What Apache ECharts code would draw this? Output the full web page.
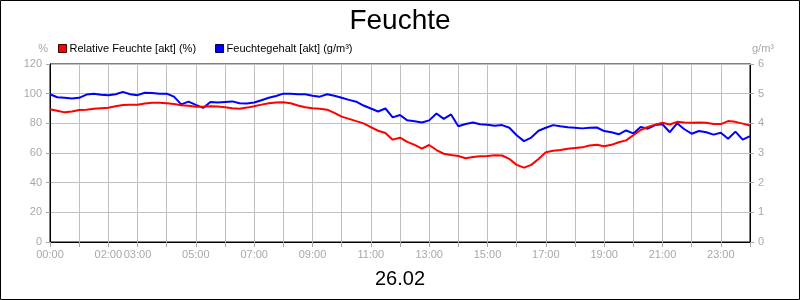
<!DOCTYPE html>
<html>
<head>
<meta charset="utf-8">
<script src="https://cdn.jsdelivr.net/npm/echarts@6/dist/echarts.min.js"></script>
<style>
html,body{margin:0;padding:0;background:#fff;}
#c{width:800px;height:300px;}
</style>
</head>
<body>
<div id="c"></div>
<script>
const titleText = 'Feuchte';
const dateText = '26.02';
const seriesNames = ['Relative Feuchte [akt] (%)', 'Feuchtegehalt [akt] (g/m³)'];
const xTickHours = [0, 2, 3, 5, 7, 9, 11, 13, 15, 17, 19, 21, 23];
const xTickLabels = ['00:00','02:00','03:00','05:00','07:00','09:00','11:00','13:00','15:00','17:00','19:00','21:00','23:00'];
const stepHours = 0.25;

// Relative Feuchte (%), one reading per 15 minutes, 00:00 .. 24:00
const rh = [
  89.5, 88.5, 87.4, 88.0, 89.0, 89.2, 89.8, 90.2, 90.5, 91.5, 92.4, 92.5,
  92.6, 93.3, 93.9, 93.8, 93.5, 93.0, 92.2, 91.8, 91.2, 91.2, 91.5, 91.3,
  90.8, 90.2, 89.8, 90.6, 91.5, 92.6, 93.6, 94.0, 94.2, 93.5, 92.0, 90.8,
  90.2, 89.8, 89.2, 87.0, 84.5, 83.0, 81.5, 80.0, 77.5, 75.0, 73.5, 69.0,
  70.3, 67.5, 65.5, 63.0, 65.4, 62.0, 59.5, 58.6, 58.0, 56.5, 57.3, 57.8,
  58.0, 58.5, 58.3, 56.0, 52.0, 50.1, 52.0, 56.0, 60.5, 61.5, 62.0, 62.8,
  63.3, 63.8, 65.0, 65.5, 64.5, 65.5, 67.2, 68.5, 72.0, 75.5, 77.5, 79.0,
  80.4, 79.2, 81.0, 80.5, 80.4, 80.6, 80.4, 79.5, 79.5, 81.5, 81.0, 79.8,
  78.5
];
// Feuchtegehalt (g/m³), one reading per 15 minutes, 00:00 .. 24:00
const ah = [
  4.98, 4.88, 4.86, 4.84, 4.86, 4.97, 5.00, 4.96, 4.95, 4.98, 5.06, 4.98,
  4.95, 5.03, 5.02, 5.00, 5.00, 4.90, 4.64, 4.73, 4.62, 4.52, 4.72, 4.70,
  4.72, 4.74, 4.68, 4.67, 4.70, 4.78, 4.86, 4.92, 5.00, 5.00, 4.98, 4.98,
  4.93, 4.90, 4.98, 4.93, 4.86, 4.79, 4.73, 4.60, 4.50, 4.40, 4.50, 4.20,
  4.28, 4.10, 4.07, 4.03, 4.10, 4.33, 4.15, 4.30, 3.90, 3.98, 4.03, 3.97,
  3.95, 3.92, 3.94, 3.85, 3.60, 3.40, 3.52, 3.75, 3.85, 3.94, 3.90, 3.87,
  3.85, 3.83, 3.85, 3.86, 3.74, 3.70, 3.63, 3.76, 3.66, 3.88, 3.82, 3.94,
  3.97, 3.70, 4.00, 3.80, 3.65, 3.74, 3.70, 3.62, 3.68, 3.48, 3.72, 3.45,
  3.57
];

const times = rh.map((_, i) => i * stepHours);
const rhData = times.map((t, i) => [t, rh[i]]);
const ahData = times.map((t, i) => [t, ah[i]]);

const FONT = 'Liberation Sans, Arial, sans-serif';
const GRAY = '#a8a8a8';
const GRID = '#c0c0c0';

const chart = echarts.init(document.getElementById('c'), null, {renderer: 'canvas'});
chart.setOption({
  animation: false,
  backgroundColor: '#fff',
  textStyle: {fontFamily: FONT},
  title: [
    {text: titleText, left: 'center', top: 2, textStyle: {fontSize: 28, fontWeight: 'normal', color: '#000', fontFamily: FONT}},
    {text: dateText, left: 'center', top: 264, textStyle: {fontSize: 20, fontWeight: 'normal', color: '#000', fontFamily: FONT}}
  ],
  legend: {
    left: 53, top: 38, itemWidth: 8, itemHeight: 8, itemGap: 19, icon: 'rect',
    textStyle: {fontSize: 11, color: '#000', fontFamily: FONT, padding: [0, 0, 0, -2]},
    data: [
      {name: seriesNames[0], itemStyle: {color: '#ff0000', borderColor: '#400000', borderWidth: 1}},
      {name: seriesNames[1], itemStyle: {color: '#0000ff', borderColor: '#000040', borderWidth: 1}}
    ]
  },
  grid: {left: 50, right: 50, top: 64, bottom: 58, show: true, borderColor: '#000', borderWidth: 1, backgroundColor: 'transparent'},
  xAxis: {
    type: 'value', min: 0, max: 24, interval: 1,
    axisLine: {show: true, lineStyle: {color: '#000', width: 1}},
    axisTick: {show: true, length: 5, lineStyle: {color: GRAY}},
    axisLabel: {
      color: GRAY, fontSize: 11, fontFamily: FONT, margin: 7, showMaxLabel: true,
      formatter: v => { const k = xTickHours.indexOf(v); return k >= 0 ? xTickLabels[k] : ''; }
    },
    splitLine: {show: true, lineStyle: {color: GRID, width: 1}}
  },
  yAxis: [
    {
      type: 'value', min: 0, max: 120, interval: 20, position: 'left',
      name: '%', nameLocation: 'end', nameGap: 10,
      nameTextStyle: {color: GRAY, fontSize: 11, fontFamily: FONT, align: 'right', padding: [0, 2, 0, 0]},
      axisLine: {show: true, lineStyle: {color: '#000', width: 1}},
      axisTick: {show: true, length: 4, lineStyle: {color: GRAY}},
      axisLabel: {color: GRAY, fontSize: 11, fontFamily: FONT, margin: 8},
      splitLine: {show: true, lineStyle: {color: GRID, width: 1}}
    },
    {
      type: 'value', min: 0, max: 6, interval: 1, position: 'right',
      name: 'g/m³', nameLocation: 'end', nameGap: 10,
      nameTextStyle: {color: GRAY, fontSize: 11, fontFamily: FONT, align: 'left', padding: [0, 0, 0, 2]},
      axisLine: {show: true, lineStyle: {color: '#000', width: 1}},
      axisTick: {show: true, length: 4, lineStyle: {color: GRAY}},
      axisLabel: {color: GRAY, fontSize: 11, fontFamily: FONT, margin: 8},
      splitLine: {show: false}
    }
  ],
  series: [
    {name: seriesNames[0], type: 'line', yAxisIndex: 0, data: rhData, showSymbol: false, symbol: 'none',
     lineStyle: {color: '#ff0000', width: 2}, itemStyle: {color: '#ff0000'}, z: 3},
    {name: seriesNames[1], type: 'line', yAxisIndex: 1, data: ahData, showSymbol: false, symbol: 'none',
     lineStyle: {color: '#0000ff', width: 2}, itemStyle: {color: '#0000ff'}, z: 2}
  ],
  graphic: [
    {type: 'rect', silent: true, shape: {x: 0.5, y: 0.5, width: 799, height: 299},
     style: {fill: 'none', stroke: '#000', lineWidth: 1}, z: 100}
  ]
});
</script>
</body>
</html>
